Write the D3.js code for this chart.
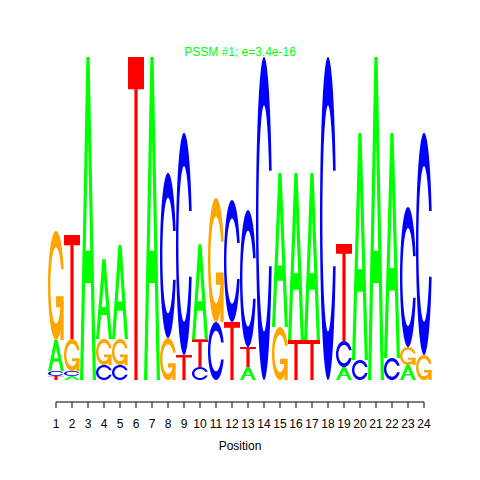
<!DOCTYPE html>
<html><head><meta charset="utf-8">
<script src="https://cdn.jsdelivr.net/npm/d3@7"></script>
<style>body{margin:0;background:#fff}</style>
</head><body>
<script>
// ---- data (information content per base, bits) ----
const positions = d3.range(1, 25);
const bases = ["A", "C", "G", "T"];
const bitsA = [0.192,0.025,2.000,0.495,0.582,0,2.000,0,0,0.588,0,0,0.080,0,0.954,1.034,1.034,0,0.080,1.406,2.000,1.393,0.093,0];
const bitsC = [0.031,0.031,0,0.093,0.093,0,0,1.022,1.375,0.080,0.359,0.755,0.848,2.000,0,0,0,2.000,0.161,0.124,0,0.136,0.867,1.375];
const bitsG = [0.675,0.198,0,0.161,0.161,0,0,0.260,0,0,0.768,0,0,0,0.328,0,0,0,0,0,0,0,0.111,0.155];
const bitsT = [0.025,0.644,0,0,0,2.000,0,0,0.155,0.173,0,0.359,0.124,0,0,0.248,0.248,0,0.601,0,0,0,0,0];
const titleText = "PSSM #1; e=3.4e-16";
const xLabel = "Position";

const colors = {A: "#00ff00", C: "#0000ff", G: "#ffa500", T: "#ff0000"};
const W = 480, H = 480;
const svg = d3.select("body").append("svg").attr("width", W).attr("height", H);
svg.append("rect").attr("width", W).attr("height", H).attr("fill", "#fff");

const x = d3.scaleLinear().domain([1, 24]).range([56, 424]);
const y = d3.scaleLinear().domain([0, 2]).range([380, 57]);

// ---- glyph shapes in unit square (y up) ----
function seq(a, b, n) { return d3.range(n).map(i => a + (b - a) * i / (n - 1)); }
function ringShape() {
  const a1 = seq(0.3 + Math.PI / 2, Math.PI, 100), a2 = seq(Math.PI, 1.5 * Math.PI, 100);
  const xl = [...a1, ...a2].map(a => 0.5 + 0.5 * Math.sin(a));
  const yl = [...a1, ...a2].map(a => 0.5 + 0.5 * Math.cos(a));
  const maxY1 = d3.max(a1.map(a => 0.5 + 0.5 * Math.cos(a)));
  const ox = [...xl, ...xl.slice().reverse()];
  const oy = [...yl, ...yl.slice().reverse().map(v => 1 - v)];
  let xi1 = [], yi1 = [];
  a1.forEach(a => { const yy = 0.5 + 0.35 * Math.cos(a); if (yy <= maxY1) { xi1.push(0.5 + 0.35 * Math.sin(a)); yi1.push(yy); } });
  yi1[0] = maxY1;
  const xi = [...xi1, ...a2.map(a => 0.5 + 0.35 * Math.sin(a))];
  const yi = [...yi1, ...a2.map(a => 0.5 + 0.35 * Math.cos(a))];
  const x1 = [...xi, ...xi.slice().reverse()];
  const y1 = [...yi, ...yi.slice().reverse().map(v => 1 - v)];
  const X = [...ox, ...x1.slice().reverse()], Y = [...oy, ...y1.slice().reverse()];
  return {pts: X.map((v, i) => [v, Y[i]]), r1: d3.max(xl.slice(0, 100))};
}
const ring = ringShape();
const shapes = {
  A: [[[0,0],[0.4,1],[0.6,1],[1,0],[0.8,0],[0.68,0.3],[0.32,0.3],[0.2,0],[0,0]],
      [[0.36,0.4],[0.5,0.75],[0.64,0.4]]],
  T: [[[0,1],[1,1],[1,0.9],[0.6,0.9],[0.6,0],[0.4,0],[0.4,0.9],[0,0.9]]],
  C: [ring.pts],
  G: [ring.pts, [[ring.r1,0.4],[0.5,0.4],[0.5,0.3],[ring.r1-0.2,0.3],[ring.r1-0.2,0],[ring.r1,0],[ring.r1,0.4]]]
};

const table = positions.map((p, i) => ({
  pos: p,
  vals: [{b: "A", v: bitsA[i]}, {b: "C", v: bitsC[i]}, {b: "G", v: bitsG[i]}, {b: "T", v: bitsT[i]}]
}));

const gLogo = svg.append("g");
table.forEach(col => {
  const sorted = col.vals.filter(d => d.v > 0).sort((a, b) => a.v - b.v);
  let cum = 0;
  const x0 = x(col.pos - 0.5), w = x(col.pos + 0.5) - x(col.pos - 0.5);
  sorted.forEach(d => {
    const yb = y(cum), yt = y(cum + d.v), h = yb - yt;
    const polys = shapes[d.b];
    if (d.b === "A") {
      const path = polys.map(poly => "M" + poly.map(([u, v]) => [x0 + u * w, yb - v * h].join(",")).join("L") + "Z").join("");
      gLogo.append("path").attr("d", path).attr("fill", colors[d.b]).attr("fill-rule", "evenodd");
    } else {
      polys.forEach(poly => {
        const path = "M" + poly.map(([u, v]) => [x0 + u * w, yb - v * h].join(",")).join("L") + "Z";
        gLogo.append("path").attr("d", path).attr("fill", colors[d.b]);
      });
    }
    cum += d.v;
  });
});

// ---- axis ----
const axis = d3.axisBottom(x).tickValues(positions).tickFormat(d3.format("d"))
  .tickSize(6).tickSizeOuter(0).tickPadding(11).offset(0);
const gx = svg.append("g").attr("transform", "translate(0,402)").call(axis);
gx.selectAll("text").attr("font-size", 12).attr("font-family", "Liberation Sans, Arial, sans-serif").attr("fill", "#000");
gx.selectAll("line,path").attr("stroke", "#000");

svg.append("text").attr("x", 240).attr("y", 450).attr("text-anchor", "middle")
  .attr("font-size", 12).attr("font-family", "Liberation Sans, Arial, sans-serif").text(xLabel);
svg.append("text").attr("x", 240).attr("y", 55.5).attr("text-anchor", "middle")
  .attr("font-size", 12).attr("fill", "#00ff00").attr("font-family", "Liberation Sans, Arial, sans-serif").text(titleText);
</script>
</body></html>
